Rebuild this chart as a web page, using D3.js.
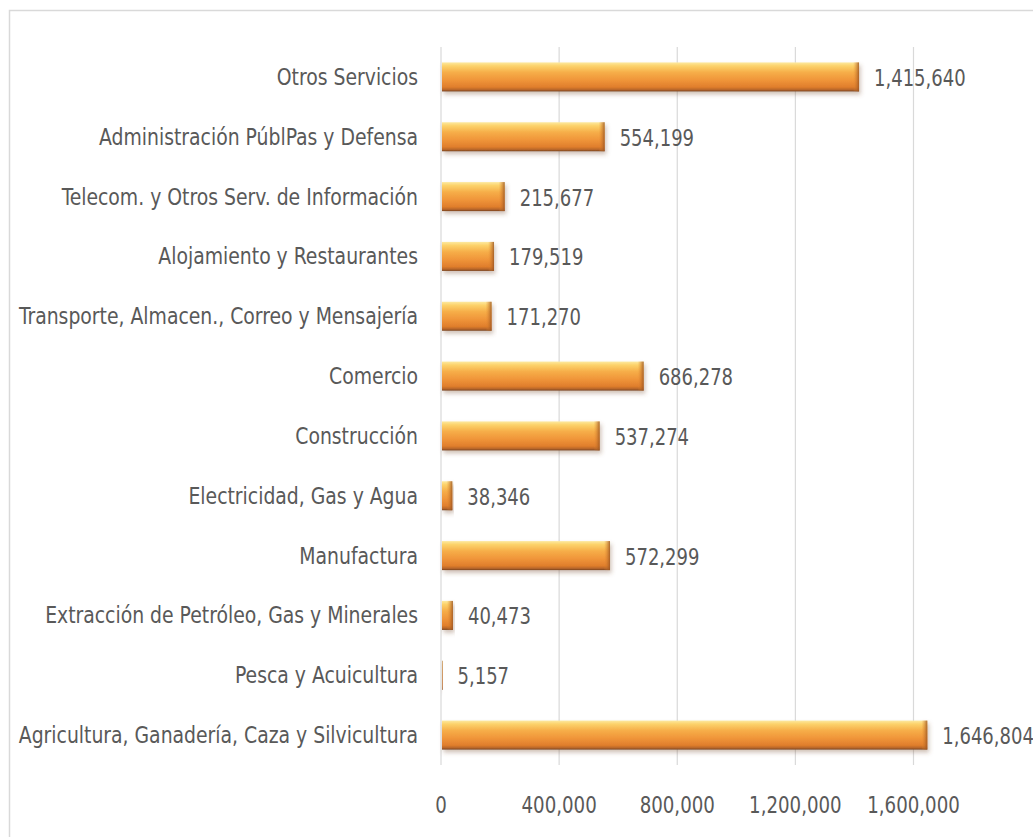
<!DOCTYPE html>
<html>
<head>
<meta charset="utf-8">
<script src="https://cdn.jsdelivr.net/npm/d3@7/dist/d3.min.js"></script>
<style>
  html, body { margin: 0; padding: 0; background: #ffffff; }
  svg { display: block; }
  text { font-family: "DejaVu Sans Condensed", "Open Sans", sans-serif; fill: #595959; }
</style>
</head>
<body>
<svg id="chart" width="1033" height="837"></svg>
<script>
// Sectores económicos (de arriba hacia abajo)
const categories = [
  "Otros Servicios",
  "Administración PúblPas y Defensa",
  "Telecom. y Otros Serv. de Información",
  "Alojamiento y Restaurantes",
  "Transporte, Almacen., Correo y Mensajería",
  "Comercio",
  "Construcción",
  "Electricidad, Gas y Agua",
  "Manufactura",
  "Extracción de Petróleo, Gas y Minerales",
  "Pesca y Acuicultura",
  "Agricultura, Ganadería, Caza y Silvicultura"
];
const values = [
  1415640, 554199, 215677, 179519, 171270, 686278,
  537274, 38346, 572299, 40473, 5157, 1646804
];
const tickValues = [0, 400000, 800000, 1200000, 1600000];

const svg = d3.select("#chart");
const W = 1033, H = 837;
const plot = { left: 441, right: 913.5, top: 47, bottom: 765 };
const FONT = 23; // tall, narrow lettering

// Outer chart frame
svg.append("rect")
  .attr("x", 9.5).attr("y", 10.5)
  .attr("width", W + 20).attr("height", H + 20)
  .attr("fill", "#ffffff")
  .attr("stroke", "#d9d9d9").attr("stroke-width", 1.5);

const x = d3.scaleLinear().domain([0, 1600000]).range([plot.left, plot.right]);
const y = d3.scaleBand().domain(categories).range([plot.top, plot.bottom]).paddingInner(0.515).paddingOuter(0.2575);

const defs = svg.append("defs");
const grad = defs.append("linearGradient")
  .attr("id", "barFill").attr("x1", 0).attr("y1", 0).attr("x2", 0).attr("y2", 1);
[
  [0, "#fde9a0"], [0.12, "#fcd26a"], [0.35, "#f6ad48"], [0.6, "#f0963a"],
  [0.85, "#e07e2c"], [0.94, "#b8662a"], [1, "#7a4520"]
].forEach(([o, c]) => grad.append("stop").attr("offset", o).attr("stop-color", c));

const endGrad = defs.append("linearGradient")
  .attr("id", "endFill").attr("x1", 0).attr("y1", 0).attr("x2", 1).attr("y2", 0);
endGrad.append("stop").attr("offset", 0).attr("stop-color", "#e8892f").attr("stop-opacity", 0);
endGrad.append("stop").attr("offset", 1).attr("stop-color", "#9a5422").attr("stop-opacity", 0.85);

const shadow = defs.append("filter").attr("id", "shadow")
  .attr("x", "-5%").attr("y", "-30%").attr("width", "115%").attr("height", "180%");
shadow.append("feDropShadow").attr("dx", 1.5).attr("dy", 3).attr("stdDeviation", 2.2)
  .attr("flood-color", "#7a5030").attr("flood-opacity", 0.35);

// Vertical gridlines
svg.append("g").selectAll("line")
  .data(tickValues)
  .join("line")
  .attr("x1", d => x(d)).attr("x2", d => x(d))
  .attr("y1", plot.top).attr("y2", plot.bottom)
  .attr("stroke", "#d9d9d9").attr("stroke-width", 1.2);

// Helper: place horizontally condensed text at (px, py)
function label(sel, px, py, anchor, txt, squeeze) {
  sel.append("text")
    .attr("transform", d => `translate(${px(d)},${py(d)}) scale(${squeeze},1)`)
    .attr("dy", "0.35em")
    .attr("text-anchor", anchor)
    .attr("font-size", FONT)
    .text(txt);
}

// Category axis labels
label(svg.append("g").selectAll("g").data(categories).join("g"),
  () => plot.left - 23,
  d => y(d) + y.bandwidth() / 2,
  "end", d => d, 0.91);

// Bars
const rows = categories.map((c, i) => ({ c, v: values[i] }));
const bars = svg.append("g").selectAll("g")
  .data(rows)
  .join("g")
  .attr("filter", "url(#shadow)");

bars.append("rect")
  .attr("x", x(0) + 1)
  .attr("y", d => y(d.c))
  .attr("width", d => Math.max(0.5, x(d.v) - x(0) - 1))
  .attr("height", y.bandwidth())
  .attr("fill", "url(#barFill)");

// Beveled right end of each bar
bars.append("rect")
  .attr("x", d => Math.max(x(0) + 1, x(d.v) - 6))
  .attr("y", d => y(d.c))
  .attr("width", d => Math.min(6, Math.max(0.5, x(d.v) - x(0) - 1)))
  .attr("height", y.bandwidth())
  .attr("fill", "url(#endFill)");

// Value labels
const fmt = d3.format(",");
label(svg.append("g").selectAll("g").data(rows).join("g"),
  d => x(d.v) + 15,
  d => y(d.c) + y.bandwidth() / 2 + 1,
  "start", d => fmt(d.v), 0.87);

// Value axis tick labels
label(svg.append("g").selectAll("g").data(tickValues).join("g"),
  d => x(d),
  () => 805,
  "middle", d => fmt(d), 0.88);
</script>
</body>
</html>
